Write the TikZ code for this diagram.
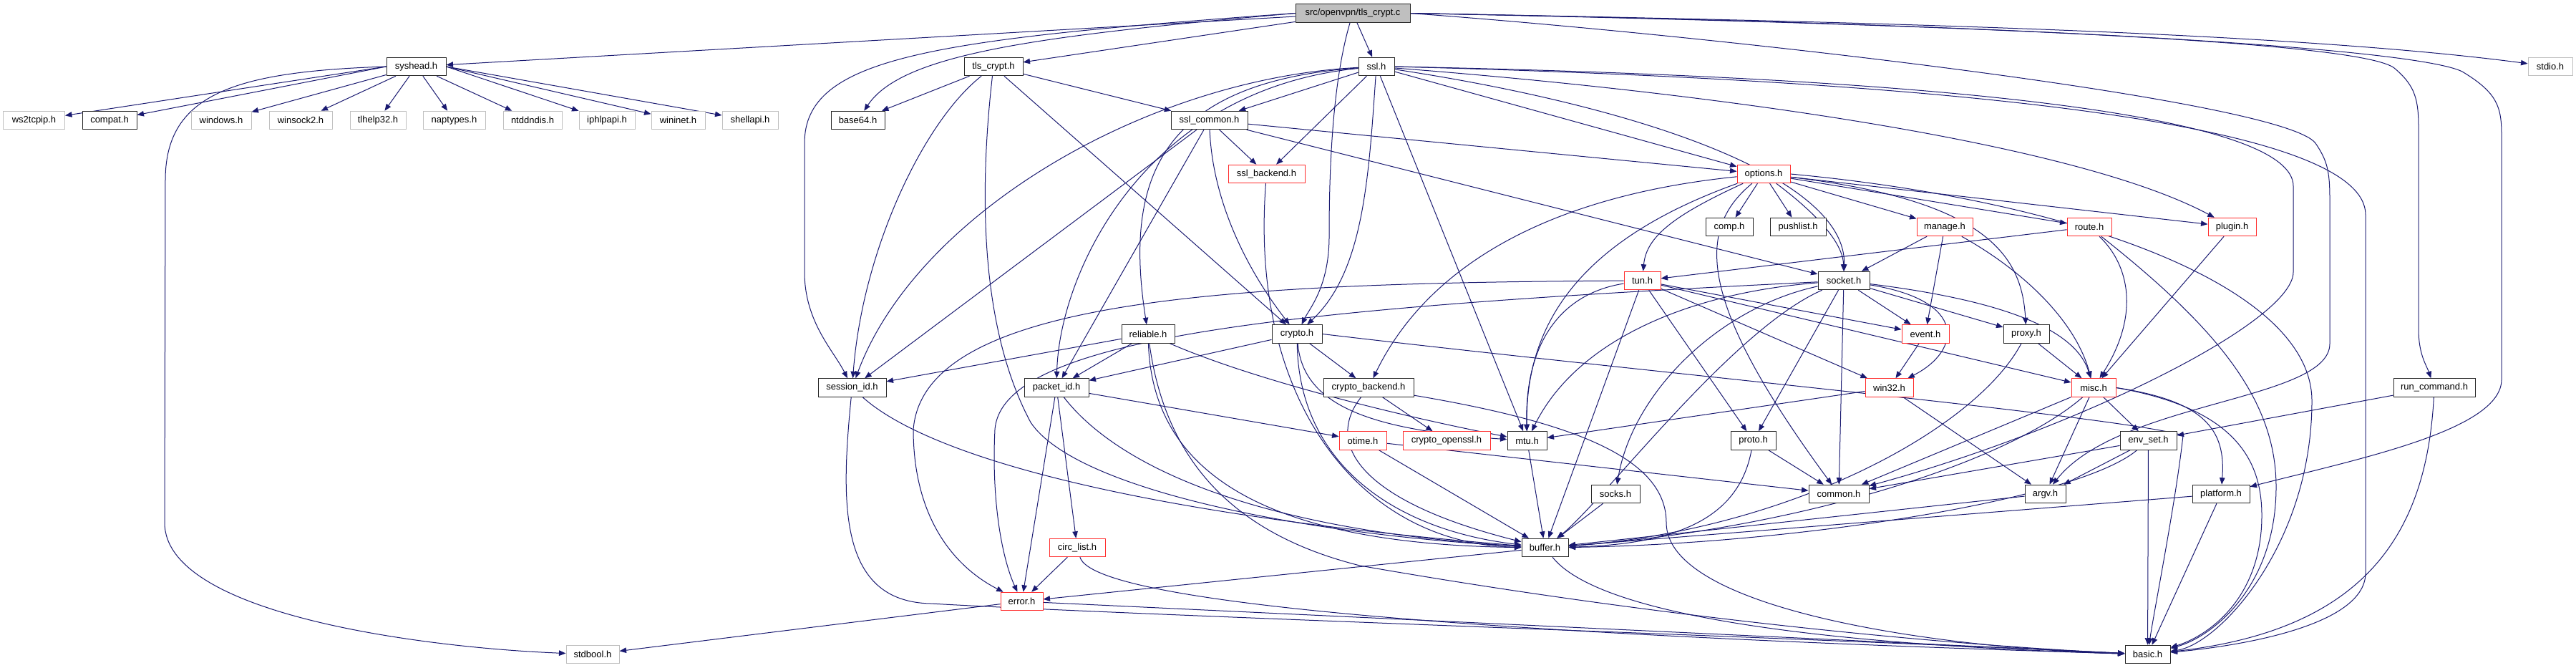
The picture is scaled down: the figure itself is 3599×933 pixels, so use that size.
\documentclass[tikz,border=0pt]{standalone}
\usepackage{fontspec}
\setmainfont{Liberation Sans}
\usetikzlibrary{arrows.meta,backgrounds}
\definecolor{edgec}{RGB}{25,25,112}
\definecolor{redc}{RGB}{255,45,45}
\definecolor{extc}{RGB}{191,191,191}
\definecolor{rootc}{RGB}{191,191,191}
\begin{document}
\begin{tikzpicture}[x=1pt,y=-1pt,
  font=\fontsize{13}{15}\selectfont,
  nbase/.style={rectangle,minimum height=25.5,inner sep=0pt,fill=white,line width=1pt},
  nblk/.style={nbase,draw=black!85},
  nred/.style={nbase,draw=redc},
  next/.style={nbase,draw=extc},
  nroot/.style={nbase,draw=black!85,fill=rootc},
  dep/.style={draw=edgec,line width=1pt,-{Triangle[length=9.5pt,width=7.5pt]}}]
\useasboundingbox (0,0) rectangle (3599,933);
% row 1
\node[nroot,minimum width=160] (root) at (1890,18.5) {src/openvpn/tls\_crypt.c};
% row 2
\node[nblk,minimum width=83] (syshead) at (581.5,93) {syshead.h};
\node[nblk,minimum width=82] (tlscrypth) at (1388,93) {tls\_crypt.h};
\node[nblk,minimum width=50] (ssl) at (1923,93) {ssl.h};
\node[next,minimum width=62] (stdio) at (3563,93) {stdio.h};
% row 3
\node[next,minimum width=86] (ws2tcpip) at (47.5,168) {ws2tcpip.h};
\node[nblk,minimum width=76] (compat) at (153,168) {compat.h};
\node[next,minimum width=84] (windows) at (309,168) {windows.h};
\node[next,minimum width=88] (winsock) at (420,168) {winsock2.h};
\node[next,minimum width=78] (tlhelp) at (528,168) {tlhelp32.h};
\node[next,minimum width=87] (naptypes) at (634.5,168) {naptypes.h};
\node[next,minimum width=82] (ntddndis) at (744,168) {ntddndis.h};
\node[next,minimum width=78] (iphlpapi) at (848,168) {iphlpapi.h};
\node[next,minimum width=75] (wininet) at (947.5,168) {wininet.h};
\node[next,minimum width=78] (shellapi) at (1048,168) {shellapi.h};
\node[nblk,minimum width=75] (base64) at (1198.5,168) {base64.h};
\node[nblk,minimum width=107] (sslcommon) at (1689.5,168) {ssl\_common.h};
% row 4
\node[nred,minimum width=107] (sslbackend) at (1769.5,243) {ssl\_backend.h};
\node[nred,minimum width=74] (options) at (2464,243) {options.h};
% row 5
\node[nblk,minimum width=66] (comp) at (2416,317) {comp.h};
\node[nblk,minimum width=78] (pushlist) at (2512,317) {pushlist.h};
\node[nred,minimum width=78] (manage) at (2717,317) {manage.h};
\node[nred,minimum width=62] (route) at (2919,317) {route.h};
\node[nred,minimum width=67] (plugin) at (3118.5,317) {plugin.h};
% row 6
\node[nred,minimum width=51] (tun) at (2294.5,392) {tun.h};
\node[nblk,minimum width=72] (socket) at (2576,392) {socket.h};
% row 7
\node[nblk,minimum width=74] (reliable) at (1604,466.5) {reliable.h};
\node[nblk,minimum width=70] (crypto) at (1812,466.5) {crypto.h};
\node[nred,minimum width=66] (event) at (2690,466.5) {event.h};
\node[nblk,minimum width=64] (proxy) at (2831,466.5) {proxy.h};
% row 8
\node[nblk,minimum width=95] (sessionid) at (1190.5,541.5) {session\_id.h};
\node[nblk,minimum width=90] (packetid) at (1476,541.5) {packet\_id.h};
\node[nblk,minimum width=126] (cryptobackend) at (1912,541.5) {crypto\_backend.h};
\node[nred,minimum width=67] (win32) at (2639.5,541.5) {win32.h};
\node[nred,minimum width=62] (misc) at (2925,541.5) {misc.h};
\node[nblk,minimum width=114] (runcommand) at (3401,541.5) {run\_command.h};
% row 9
\node[nred,minimum width=66] (otime) at (1904,615.5) {otime.h};
\node[nred,minimum width=122] (cryptoopenssl) at (2021,615.5) {crypto\_openssl.h};
\node[nblk,minimum width=55] (mtu) at (2133.5,615.5) {mtu.h};
\node[nblk,minimum width=63] (proto) at (2449.5,615.5) {proto.h};
\node[nblk,minimum width=79] (envset) at (3001.5,615.5) {env\_set.h};
% row 10
\node[nblk,minimum width=68] (socks) at (2257,690) {socks.h};
\node[nblk,minimum width=84] (common) at (2569,690) {common.h};
\node[nblk,minimum width=57] (argv) at (2857.5,690) {argv.h};
\node[nblk,minimum width=80] (platform) at (3103,690) {platform.h};
% row 11
\node[nblk,minimum width=65] (buffer) at (2158.5,765) {buffer.h};
\node[nred,minimum width=78] (circlist) at (1505,765) {circ\_list.h};
% row 12
\node[nred,minimum width=59] (error) at (1427.5,840) {error.h};
% row 13
\node[next,minimum width=74] (stdbool) at (828,914) {stdbool.h};
\node[nblk,minimum width=63] (basic) at (3000.5,914) {basic.h};

\begin{pgfonlayer}{background}
% ---- root
\draw[dep] (root) -- (syshead);
\draw[dep] (root) -- (tlscrypth);
\draw[dep] (root) -- (ssl);
\draw[dep] (root.west) .. controls (1450,50) and (1260,75) .. (base64);
\draw[dep] (root.west) .. controls (1300,55) and (1124,80) .. (1124,200) -- (1124,380) .. controls (1124,450) and (1165,490) .. (sessionid);
\draw[dep] (root) .. controls (1860,120) and (1857,250) .. (1857,330) .. controls (1857,400) and (1830,430) .. (crypto);
\draw[dep] (root.east) .. controls (2600,30) and (3200,45) .. (stdio);
\draw[dep] (root.east) .. controls (2800,35) and (3300,60) .. (3345,95) .. controls (3375,120) and (3379,140) .. (3379,180) -- (3379,460) .. controls (3379,495) and (3390,510) .. (runcommand);
\draw[dep] (root.east) .. controls (2900,35) and (3380,70) .. (3440,100) .. controls (3490,130) and (3495,150) .. (3495,190) -- (3495,530) .. controls (3495,600) and (3300,640) .. (platform);
\draw[dep] (root.east) .. controls (2400,50) and (3190,140) .. (3235,200) .. controls (3252,225) and (3255,240) .. (3255,280) -- (3255,480) .. controls (3255,560) and (2960,560) .. (argv);
% ---- syshead
\draw[dep] (syshead.west) -- (ws2tcpip);
\draw[dep] (syshead.west) -- (compat);
\foreach \t in {windows,winsock,tlhelp,naptypes,ntddndis}
  \draw[dep] (syshead) -- (\t);
\draw[dep] (syshead.east) -- (iphlpapi);
\draw[dep] (syshead.east) -- (wininet);
\draw[dep] (syshead.east) -- (shellapi);
\draw[dep] (syshead.west) .. controls (330,100) and (232,130) .. (231,250) -- (230,730) .. controls (230,860) and (600,905) .. (stdbool);
% ---- tls_crypt.h
\draw[dep] (tlscrypth) -- (base64);
\draw[dep] (tlscrypth) -- (sslcommon);
\draw[dep] (tlscrypth) -- (crypto);
\draw[dep] (tlscrypth) .. controls (1290,170) and (1205,350) .. (sessionid);
\draw[dep] (tlscrypth) .. controls (1370,250) and (1365,450) .. (1440,590) .. controls (1500,680) and (1800,745) .. (buffer);
% ---- ssl.h
\draw[dep] (ssl) -- (sslcommon);
\draw[dep] (ssl) -- (sslbackend);
\draw[dep] (ssl) -- (mtu);
\draw[dep] (ssl) -- (options);
\draw[dep] (ssl) .. controls (1600,110) and (1280,300) .. (sessionid);
\draw[dep] (ssl) .. controls (1620,115) and (1570,250) .. (reliable);
\draw[dep] (ssl) .. controls (1600,125) and (1480,380) .. (packetid);
\draw[dep] (ssl) .. controls (1912,250) and (1905,380) .. (crypto);
\draw[dep] (ssl) .. controls (2300,150) and (2580,250) .. (socket);
\draw[dep] (ssl) .. controls (2400,130) and (2900,200) .. (plugin);
\draw[dep] (ssl.east) .. controls (2800,110) and (3204,170) .. (3204,260) -- (3204,380) .. controls (3204,450) and (2900,600) .. (common);
\draw[dep] (ssl.east) .. controls (2800,115) and (3305,180) .. (3305,300) -- (3305,800) .. controls (3305,880) and (3100,905) .. (basic);
% ---- ssl_common.h
\draw[dep] (sslcommon) -- (options);
\draw[dep] (sslcommon) -- (socket);
\draw[dep] (sslcommon) -- (sslbackend);
\draw[dep] (sslcommon) -- (sessionid);
\draw[dep] (sslcommon) -- (packetid);
\draw[dep] (sslcommon) .. controls (1695,300) and (1760,400) .. (crypto);
% ---- ssl_backend.h
\draw[dep] (sslbackend) .. controls (1745,560) and (1900,760) .. (buffer);
% ---- options.h
\draw[dep] (options) -- (comp);
\draw[dep] (options) -- (pushlist);
\draw[dep] (options) -- (manage);
\draw[dep] (options) -- (route);
\draw[dep] (options) -- (plugin);
\draw[dep] (options) .. controls (2340,300) and (2300,330) .. (tun);
\draw[dep] (options) .. controls (2540,300) and (2575,340) .. (socket);
\draw[dep] (options) .. controls (2780,280) and (2825,360) .. (proxy);
\draw[dep] (options.east) .. controls (2900,280) and (3230,400) .. (3230,560) .. controls (3230,760) and (3100,900) .. (basic);
\draw[dep] (options) .. controls (2150,275) and (1990,380) .. (cryptobackend);
\draw[dep] (options) .. controls (2250,320) and (2130,420) .. (mtu);
\draw[dep] (options) .. controls (2370,320) and (2370,420) .. (common);
% ---- manage.h, route.h, plugin.h
\draw[dep] (manage) -- (event);
\draw[dep] (manage) -- (socket);
\draw[dep] (manage) .. controls (2830,380) and (2900,450) .. (misc);
\draw[dep] (route) -- (tun);
\draw[dep] (route) .. controls (2975,370) and (2990,440) .. (misc);
\draw[dep] (route) .. controls (3100,460) and (3180,560) .. (3180,680) .. controls (3180,820) and (3090,890) .. (basic);
\draw[dep] (plugin) -- (misc);
% ---- tun.h
\draw[dep] (tun) -- (proto);
\draw[dep] (tun) -- (event);
\draw[dep] (tun) -- (win32);
\draw[dep] (tun) -- (misc);
\draw[dep] (tun) -- (buffer);
\draw[dep] (tun) .. controls (2180,410) and (2130,480) .. (mtu);
\draw[dep] (tun) .. controls (1700,395) and (1290,420) .. (1276,600) .. controls (1276,720) and (1330,790) .. (error);
% ---- socket.h
\draw[dep] (socket) -- (event);
\draw[dep] (socket) -- (proxy);
\draw[dep] (socket) -- (proto);
\draw[dep] (socket) -- (common);
\draw[dep] (socket) .. controls (2750,420) and (2740,490) .. (win32);
\draw[dep] (socket) .. controls (2800,420) and (2900,460) .. (misc);
\draw[dep] (socket) .. controls (2400,430) and (2280,550) .. (socks);
\draw[dep] (socket) .. controls (2350,410) and (2200,480) .. (mtu);
\draw[dep] (socket) .. controls (2420,460) and (2240,700) .. (buffer);
\draw[dep] (socket) .. controls (1800,430) and (1400,470) .. (1390,600) .. controls (1385,700) and (1400,780) .. (error);
% ---- event, win32, proxy
\draw[dep] (event) -- (win32);
\draw[dep] (win32) -- (mtu);
\draw[dep] (win32) -- (argv);
\draw[dep] (proxy) -- (misc);
\draw[dep] (proxy) .. controls (2760,600) and (2500,740) .. (buffer);
% ---- reliable.h
\draw[dep] (reliable) -- (sessionid);
\draw[dep] (reliable) -- (packetid);
\draw[dep] (reliable) .. controls (1750,530) and (1950,580) .. (mtu);
\draw[dep] (reliable) .. controls (1610,650) and (1750,760) .. (buffer);
\draw[dep] (reliable) .. controls (1625,620) and (1700,740) .. (1900,790) .. controls (2300,860) and (2700,900) .. (basic);
% ---- crypto.h
\draw[dep] (crypto) -- (packetid);
\draw[dep] (crypto) -- (cryptobackend);
\draw[dep] (crypto) .. controls (1820,560) and (1900,600) .. (mtu);
\draw[dep] (crypto) .. controls (1815,650) and (1950,740) .. (buffer);
\draw[dep] (crypto.east) .. controls (2300,520) and (2950,580) .. (3050,608) .. controls (3040,700) and (3010,850) .. (basic);
% ---- crypto_backend.h
\draw[dep] (cryptobackend) -- (cryptoopenssl);
\draw[dep] (cryptobackend) .. controls (1850,620) and (1900,700) .. (buffer);
\draw[dep] (cryptobackend) .. controls (2200,590) and (2328,640) .. (2328,730) .. controls (2328,850) and (2700,905) .. (basic);
% ---- packet_id.h, session_id.h
\draw[dep] (packetid) -- (error);
\draw[dep] (packetid) -- (circlist);
\draw[dep] (packetid) -- (otime);
\draw[dep] (packetid) .. controls (1560,650) and (1750,740) .. (buffer);
\draw[dep] (sessionid) .. controls (1300,640) and (1600,720) .. (buffer);
\draw[dep] (sessionid) .. controls (1175,700) and (1170,840) .. (1300,843) .. controls (1600,860) and (2500,890) .. (basic);
% ---- circ_list, error, buffer
\draw[dep] (circlist) -- (error);
\draw[dep] (circlist) .. controls (1530,850) and (2200,890) .. (basic);
\draw[dep] (error) -- (stdbool);
\draw[dep] (error) -- (basic);
\draw[dep] (buffer) -- (error);
\draw[dep] (buffer) .. controls (2250,880) and (2700,905) .. (basic);
% ---- otime, mtu, proto, socks
\draw[dep] (otime) -- (common);
\draw[dep] (otime) -- (buffer);
\draw[dep] (mtu) -- (buffer);
\draw[dep] (proto) -- (common);
\draw[dep] (proto) .. controls (2430,720) and (2350,760) .. (buffer);
\draw[dep] (socks) -- (buffer);
% ---- misc.h
\draw[dep] (misc) -- (envset);
\draw[dep] (misc) -- (argv);
\draw[dep] (misc) -- (common);
\draw[dep] (misc) .. controls (2800,650) and (2500,740) .. (buffer);
\draw[dep] (misc.east) .. controls (3080,560) and (3110,600) .. (platform);
\draw[dep] (misc.east) .. controls (3120,570) and (3160,640) .. (3160,720) .. controls (3160,840) and (3080,890) .. (basic);
% ---- env_set, argv, platform, run_command
\draw[dep] (envset) -- (argv);
\draw[dep] (envset) -- (common);
\draw[dep] (envset) -- (basic);
\draw[dep] (envset) .. controls (2900,700) and (2500,760) .. (buffer);
\draw[dep] (argv) -- (buffer);
\draw[dep] (platform) -- (buffer);
\draw[dep] (platform) -- (basic);
\draw[dep] (runcommand) -- (envset);
\draw[dep] (runcommand) .. controls (3390,750) and (3300,880) .. (basic);
\end{pgfonlayer}
\end{tikzpicture}
\end{document}
